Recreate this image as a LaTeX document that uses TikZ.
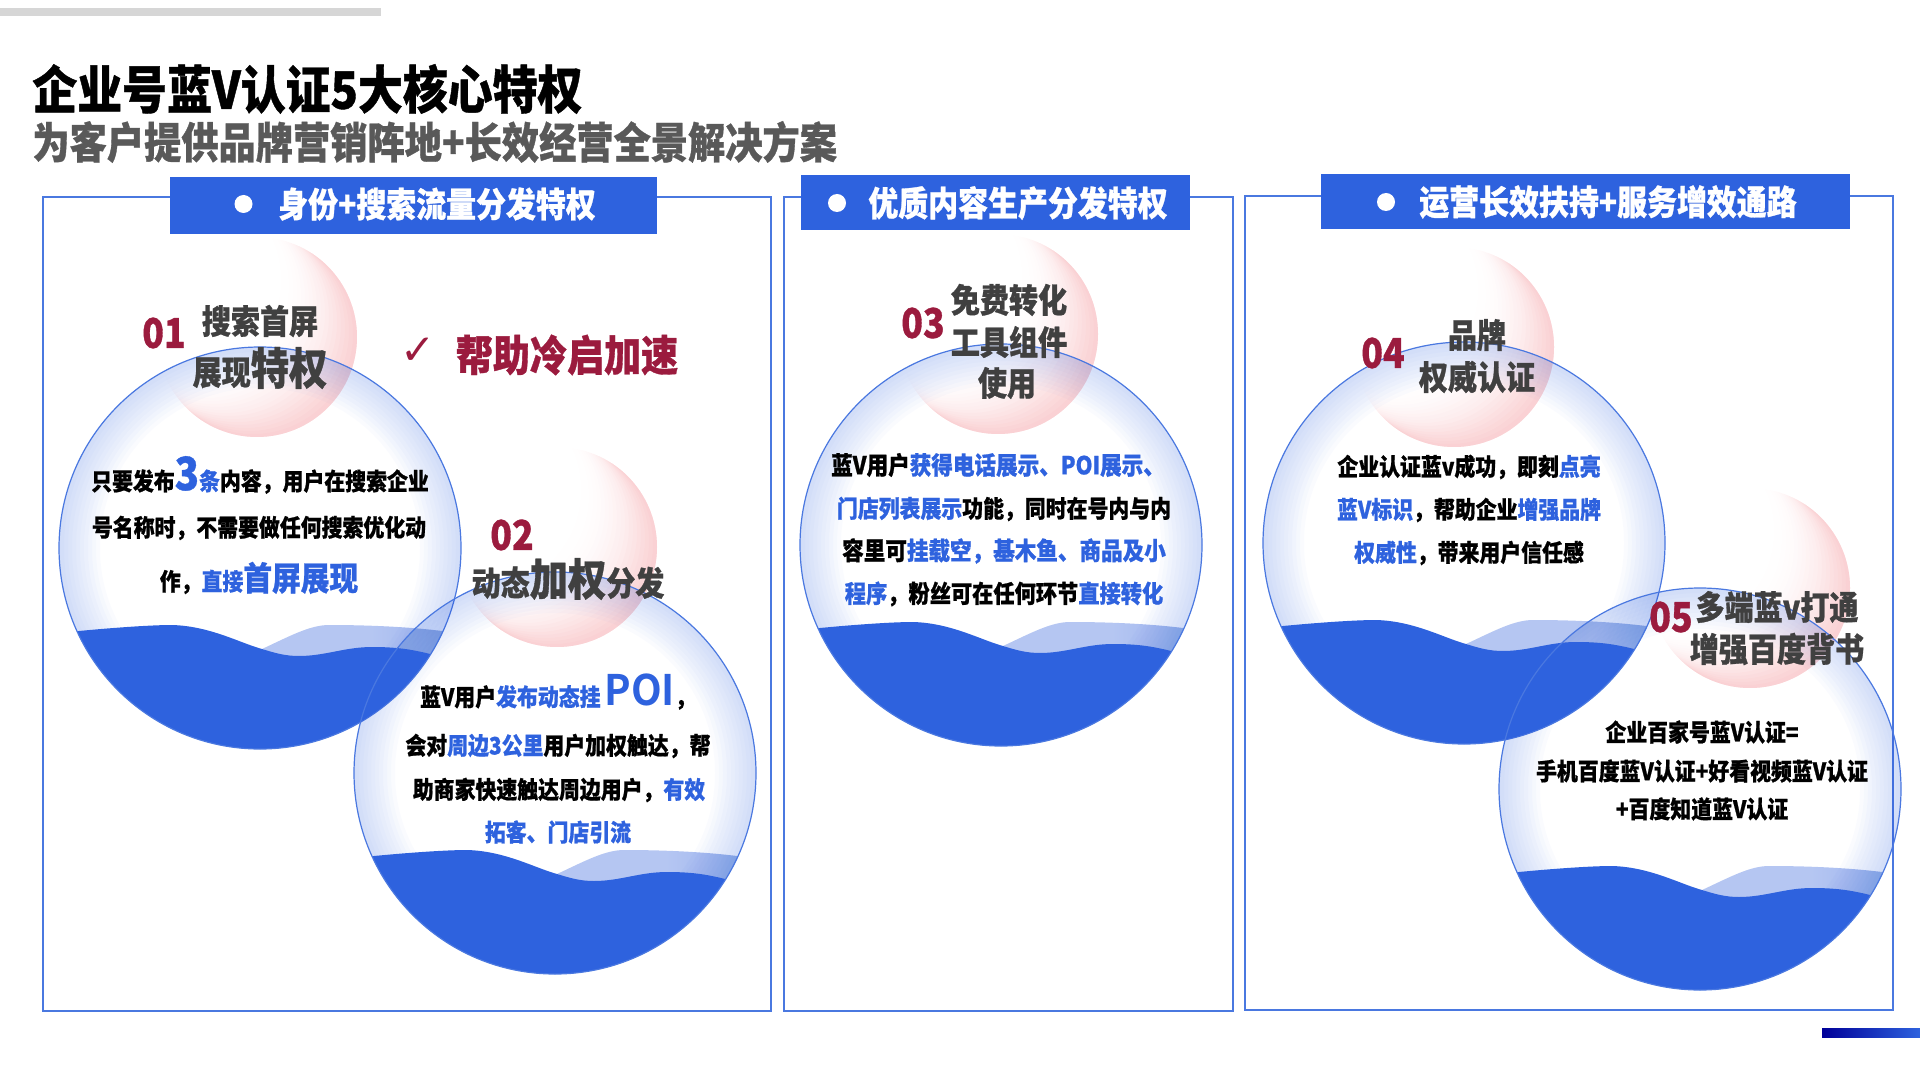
\documentclass[tikz,border=0pt]{standalone}
\usepackage{fontspec}
\usepackage{tikz}
\setmainfont[FakeStretch=0.87,FakeBold=0.8]{Noto Sans CJK SC Black}
\newfontfamily\markfont{DejaVu Sans}
\newfontfamily\latinfont[FakeStretch=0.95]{Noto Sans CJK SC Bold}
\definecolor{wavecol}{HTML}{2E62DE}
\definecolor{lightcol}{HTML}{B5C6F2}
\definecolor{rimcol}{HTML}{4A78E0}
\definecolor{pinkcol}{HTML}{F6AEB2}
\definecolor{redcol}{HTML}{9B1B3E}
\definecolor{headcol}{HTML}{404040}
\definecolor{subcol}{HTML}{595959}
\newcommand{\fs}[1]{\fontsize{#1}{#1}\selectfont}
\newcommand{\blu}[1]{\textcolor{wavecol}{#1}}
\tikzset{
	frameline/.style={draw=rimcol,line width=1.3pt},
	headbar/.style={fill=wavecol},
	headdot/.style={fill=white},
	headtxt/.style={text=white,font=\fs{17.2}},
	numtxt/.style={text=redcol,font=\fs{20.5}},
	captxt/.style={text=headcol,font=\fs{16.7}},
	bodytxt/.style={text=black,font=\fs{12}}
}
\newcommand{\pinkdisc}[2]{
	\begin{scope}[shift={(#1,#2)}]
		\clip (0,0) circle[radius=100];
		\foreach \d in {5,10,...,115} {
			\pgfmathsetmacro{\op}{0.11*(1-\d/120)*(1-\d/120)}
			\fill[pinkcol,opacity=\op,even odd rule] (-130,-130) rectangle (130,130) ({-0.8*\d},{-0.6*\d}) circle[radius=100];
		}
	\end{scope}
}
\newcommand{\wavedisc}[2]{
	\begin{scope}[shift={(#1,#2)}]
		\begin{scope}
			\clip (0,0) circle[radius=201];
			\shade[left color=lightcol,right color=lightcol!75!wavecol,middle color=lightcol] (2,101) .. controls (30,88) and (50,77) .. (69,77) .. controls (110,77) and (150,79) .. (182,83) -- (220,110) -- (170,115) -- (39,115) -- cycle;
			\fill[wavecol] (-210,84) -- (-181,83) .. controls (-150,80) and (-110,77) .. (-88,77) .. controls (-50,78) and (-20,95) .. (2,101) .. controls (15,105) and (25,108) .. (39,108) .. controls (65,108) and (85,99) .. (112,99) .. controls (135,99) and (150,101) .. (170,106) -- (210,120) -- (210,210) -- (-210,210) -- cycle;
		\end{scope}
		\foreach \r in {160,164,...,200}
			\fill[wavecol,opacity=0.025,even odd rule] (0,0) circle[radius=201] (0,0) circle[radius=\r];
		\draw[rimcol,line width=0.6pt] (0,0) circle[radius=201];
	\end{scope}
}
\begin{document}
\begin{tikzpicture}[x=0.5pt,y=-0.5pt]
	\useasboundingbox (0,0) rectangle (1920,1080);
	\fill[gray!32] (0,8) rectangle (381,16);
	\shade[left color=blue!60!black,right color=wavecol] (1822,1028) rectangle (1920,1037);
	\node[anchor=west,inner sep=0pt,font=\fs{25.8}] (title) at (32,89) {企业号蓝V认证5大核心特权};
	\node[anchor=west,inner sep=0pt,text=subcol,font=\fs{21.4}] (subtitle) at (32,142) {为客户提供品牌营销阵地+长效经营全景解决方案};
	% three panels
	\draw[frameline] (43,197) rectangle (771,1011);
	\draw[frameline] (784,197) rectangle (1233,1011);
	\draw[frameline] (1245,196) rectangle (1893,1010);
	\fill[headbar] (170,177) rectangle (657,234);
	\fill[headbar] (801,175) rectangle (1190,230);
	\fill[headbar] (1321,174) rectangle (1850,229);
	\fill[headdot] (243.5,204) circle[radius=9];
	\fill[headdot] (837,203) circle[radius=9];
	\fill[headdot] (1386,202) circle[radius=9];
	\node[headtxt] (head1) at (437,204) {身份+搜索流量分发特权};
	\node[headtxt] (head2) at (1018,203) {优质内容生产分发特权};
	\node[headtxt] (head3) at (1608,202) {运营长效扶持+服务增效通路};
	% discs
	\pinkdisc{257}{337}
	\wavedisc{260}{548}
	\pinkdisc{557}{547}
	\wavedisc{555}{773}
	\pinkdisc{998}{334}
	\wavedisc{1001}{545}
	\pinkdisc{1454}{347}
	\wavedisc{1464}{543}
	\pinkdisc{1750}{588}
	\wavedisc{1700}{789}
	% disc 1
	\node[numtxt] (num1) at (164,333) {01};
	\node[captxt] (cap1a) at (260,321) {搜索首屏};
	\node[captxt] (cap1b) at (260,368) {展现{\fs{22}特权}};
	\node[text=redcol,font=\markfont\fs{21}] (tick) at (418,351) {✓};
	\node[text=redcol,font=\fs{21.3}] (coldstart) at (567,355) {帮助冷启加速};
	\node[bodytxt] (body1a) at (260,475) {只要发布\blu{{\fs{23}3}条}内容，用户在搜索企业};
	\node[bodytxt] (body1b) at (259,528) {号名称时，不需要做任何搜索优化动};
	\node[bodytxt] (body1c) at (259,578) {作，\blu{直接{\fs{16.5}首屏展现}}};
	% disc 2
	\node[numtxt] (num2) at (512,535) {02};
	\node[captxt] (cap2) at (568,579) {动态{\fs{22}加权}分发};
	\node[bodytxt] (body2a) at (558,692) {蓝V用户\blu{发布动态挂}\,\blu{\latinfont\fs{21}POI}，};
	\node[bodytxt] (body2b) at (558,746) {会对\blu{周边3公里}用户加权触达，帮};
	\node[bodytxt] (body2c) at (559,790) {助商家快速触达周边用户，\blu{有效}};
	\node[bodytxt] (body2d) at (558,832) {\blu{拓客、门店引流}};
	% disc 3
	\node[numtxt] (num3) at (923,323) {03};
	\node[captxt] (cap3a) at (1009,300) {免费转化};
	\node[captxt] (cap3b) at (1009,342) {工具组件};
	\node[captxt] (cap3c) at (1007,383) {使用};
	\node[bodytxt,font=\fs{12.4}] (body3a) at (998,465) {蓝V用户\blu{获得电话展示、POI展示、}};
	\node[bodytxt] (body3b) at (1004,509) {\blu{门店列表展示}功能，同时在号内与内};
	\node[bodytxt,font=\fs{12.4}] (body3c) at (1004,551) {容里可\blu{挂载空，基木鱼、商品及小}};
	\node[bodytxt,font=\fs{12.2}] (body3d) at (1004,594) {\blu{程序}，粉丝可在任何环节\blu{直接转化}};
	% disc 4
	\node[numtxt] (num4) at (1383,353) {04};
	\node[captxt] (cap4a) at (1477,335) {品牌};
	\node[captxt] (cap4b) at (1477,377) {权威认证};
	\node[bodytxt] (body4a) at (1469,467) {企业认证蓝v成功，即刻\blu{点亮}};
	\node[bodytxt] (body4b) at (1469,510) {\blu{蓝V标识}，帮助企业\blu{增强品牌}};
	\node[bodytxt] (body4c) at (1469,553) {\blu{权威性}，带来用户信任感};
	% disc 5
	\node[numtxt] (num5) at (1671,617) {05};
	\node[captxt] (cap5a) at (1777,607) {多端蓝v打通};
	\node[captxt] (cap5b) at (1777,649) {增强百度背书};
	\node[bodytxt] (body5a) at (1702,732) {企业百家号蓝V认证=};
	\node[bodytxt] (body5b) at (1702,771) {手机百度蓝V认证+好看视频蓝V认证};
	\node[bodytxt] (body5c) at (1702,809) {+百度知道蓝V认证};
\end{tikzpicture}
\end{document}
